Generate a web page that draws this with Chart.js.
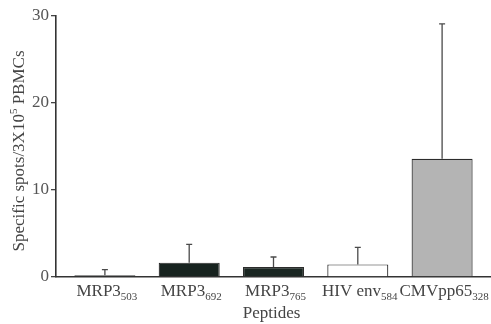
<!DOCTYPE html>
<html>
<head>
<meta charset="utf-8">
<script src="https://cdn.jsdelivr.net/npm/chart.js@4"></script>
<style>
  html, body { margin: 0; padding: 0; background: #fff; }
</style>
</head>
<body>
<canvas id="myChart" width="491" height="324"></canvas>
<script>
// data
const labels = ["MRP3", "MRP3", "MRP3", "HIV env", "CMVpp65"];
const subscripts = ["503", "692", "765", "584", "328"];
const means = [0.2, 1.65, 1.15, 1.45, 13.6];
const errors = [0.65, 2.1, 1.15, 1.95, 15.5];
const yTicks = [0, 10, 20, 30];

const fills = ["#1c2420", "#17231f", "#1a2622", "#ffffff", "#b4b4b4"];
const serif = "'Liberation Serif', 'DejaVu Serif', serif";

// error bars drawn from the y scale
const errorBars = {
  id: "errorBars",
  afterDatasetsDraw(chart) {
    const ctx = chart.ctx;
    const x = chart.scales.x, y = chart.scales.y;
    ctx.save();
    ctx.strokeStyle = "#4a4a4a";
    ctx.lineWidth = 1.3;
    means.forEach((m, i) => {
      const px = x.getPixelForValue(i);
      const top = y.getPixelForValue(m + errors[i]);
      const base = y.getPixelForValue(m);
      ctx.beginPath();
      ctx.moveTo(px, base);
      ctx.lineTo(px, top);
      ctx.moveTo(px - 3, top);
      ctx.lineTo(px + 3, top);
      ctx.stroke();
    });
    ctx.restore();
  }
};

// category labels with subscripts, axis titles
const textBits = {
  id: "textBits",
  afterDraw(chart) {
    const ctx = chart.ctx;
    const x = chart.scales.x;
    ctx.save();
    ctx.fillStyle = "#444";
    ctx.textBaseline = "alphabetic";
    const big = "17px " + serif, small = "11px " + serif;
    labels.forEach((lab, i) => {
      ctx.font = big;
      const w1 = ctx.measureText(lab).width;
      ctx.font = small;
      const w2 = ctx.measureText(subscripts[i]).width;
      const start = x.getPixelForValue(i) - (w1 + w2) / 2 + 2;
      ctx.font = big;
      ctx.textAlign = "left";
      ctx.fillText(lab, start, 296);
      ctx.font = small;
      ctx.fillText(subscripts[i], start + w1, 300);
    });

    ctx.font = big;
    ctx.textAlign = "center";
    ctx.fillText("Peptides", x.getPixelForValue(2) - 2, 318);

    // y title, rotated, with superscript
    const p1 = "Specific spots/3X10", p2 = "5", p3 = " PBMCs";
    ctx.font = big;
    const a = ctx.measureText(p1).width, c = ctx.measureText(p3).width;
    ctx.font = small;
    const b = ctx.measureText(p2).width;
    ctx.translate(24, 151);
    ctx.rotate(-Math.PI / 2);
    let s = -(a + b + c) / 2;
    ctx.textAlign = "left";
    ctx.font = big;
    ctx.fillText(p1, s, 0);
    ctx.font = small;
    ctx.fillText(p2, s + a, -7);
    ctx.font = big;
    ctx.fillText(p3, s + a + b, 0);
    ctx.restore();
  }
};

new Chart(document.getElementById("myChart").getContext("2d"), {
  type: "bar",
  data: {
    datasets: [{
      data: means.map((v, i) => ({ x: i, y: v })),
      backgroundColor: fills,
      borderColor: "#2c2c2c",
      borderWidth: 1.2,
      barPercentage: 0.724,
      categoryPercentage: 1
    }]
  },
  options: {
    responsive: false,
    animation: false,
    devicePixelRatio: 1,
    layout: { padding: { top: 16, left: 0, right: 0, bottom: 0 } },
    plugins: { legend: { display: false }, tooltip: { enabled: false } },
    scales: {
      x: {
        type: "linear",
        offset: false,
        min: -0.58,
        max: 4.58,
        afterBuildTicks(s) { s.ticks = labels.map((l, i) => ({ value: i })); },
        ticks: { display: false },
        grid: { display: false, offset: false },
        border: { color: "#333", width: 1.6 },
        afterFit(s) { s.height = 47; }
      },
      y: {
        min: 0,
        max: 30,
        afterBuildTicks(s) { s.ticks = yTicks.map(v => ({ value: v })); },
        ticks: {
          color: "#555",
          font: { family: serif, size: 17 },
          padding: 2
        },
        grid: { drawOnChartArea: false, tickLength: 5, color: "#444", lineWidth: 1.3 },
        border: { color: "#333", width: 1.6 },
        afterFit(s) { s.width = 56; }
      }
    }
  },
  plugins: [errorBars, textBits]
});
</script>
</body>
</html>
